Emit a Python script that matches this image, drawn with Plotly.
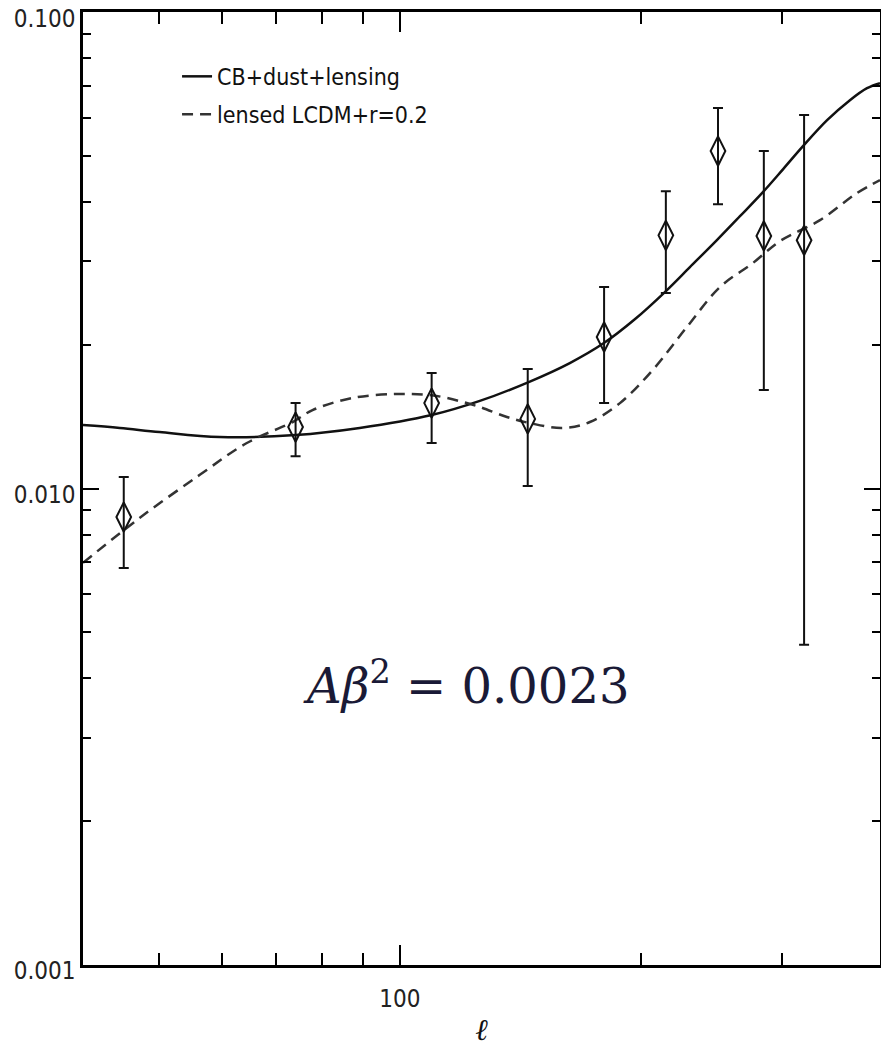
import plotly.graph_objects as go
import numpy as np

# ---- data ----
ell_pts = [45.2, 74.1, 109.6, 144.5, 180.0, 215.0, 249.8, 285.0, 320.0]
dl_pts = [0.00871, 0.01346, 0.01511, 0.01400, 0.0208, 0.0340, 0.0511, 0.0339, 0.0332]
dl_hi = [0.01057, 0.01511, 0.01748, 0.01782, 0.02648, 0.0421, 0.0629, 0.0511, 0.0608]
dl_lo = [0.00681, 0.01169, 0.01246, 0.01012, 0.01511, 0.02572, 0.03954, 0.0161, 0.0047]

ell_cb = [40.2, 44.7, 50.1, 59.6, 74.1, 89.1, 109.6, 125.9, 144.9, 163.1, 179.9, 196.8,
          214.4, 230.4, 249.0, 266.1, 283.5, 301.3, 319.0, 341.9, 365.1, 383.5, 398.1]
dl_cb = [0.01359, 0.01340, 0.01314, 0.01283, 0.01295, 0.01340, 0.01426, 0.01527, 0.01673,
         0.01834, 0.02020, 0.02269, 0.02585, 0.02916, 0.03323, 0.03730, 0.04170, 0.04684,
         0.05233, 0.05933, 0.06535, 0.06926, 0.07096]

ell_lcdm = [40.2, 47.3, 56.2, 64.4, 73.5, 77.8, 87.3, 99.1, 109.0, 114.5, 124.8, 136.1,
            145.4, 159.9, 172.8, 188.4, 207.0, 228.4, 251.2, 276.1, 298.5, 335.0, 372.4, 398.1]
dl_lcdm = [0.00698, 0.00867, 0.01067, 0.01246, 0.01379, 0.01461, 0.01549, 0.01579, 0.01571,
           0.01549, 0.01490, 0.01413, 0.01372, 0.01340, 0.01379, 0.01511, 0.01773, 0.02183,
           0.02648, 0.02973, 0.03306, 0.03660, 0.04170, 0.04440]

x_major = [100]
x_major_text = ["100"]
x_minor = [50, 60, 70, 80, 90, 200, 300]
y_major = [0.001, 0.01, 0.1]
y_major_text = ["0.001", "0.010", "0.100"]
y_minor = [0.002, 0.003, 0.004, 0.005, 0.006, 0.007, 0.008, 0.009,
           0.02, 0.03, 0.04, 0.05, 0.06, 0.07, 0.08, 0.09]

legend_names = ["CB+dust+lensing", "lensed LCDM+r=0.2"]
annotation_text = "<i>Aβ</i><sup>2</sup> = 0.0023"
x_title = "<i>ℓ</i>"

err_plus = list(np.array(dl_hi) - np.array(dl_pts))
err_minus = list(np.array(dl_pts) - np.array(dl_lo))

NARROW = "DejaVu Sans Condensed, Liberation Sans Narrow, Arial Narrow, sans-serif"

fig = go.Figure()
fig.add_trace(go.Scatter(
    x=ell_cb, y=dl_cb, mode="lines", name=legend_names[0], legendgroup="a",
    line=dict(color="#111111", width=2.5, shape="spline", smoothing=1.0)))
fig.add_trace(go.Scatter(
    x=ell_lcdm, y=dl_lcdm, mode="lines", name=legend_names[1], legendgroup="b",
    line=dict(color="#333333", width=2.5, dash="11px,7px", shape="spline", smoothing=1.0)))
fig.add_trace(go.Scatter(
    x=ell_pts, y=dl_pts, mode="markers", showlegend=False,
    marker=dict(symbol="diamond-tall-open", size=21, color="#111111",
                line=dict(width=2, color="#111111")),
    error_y=dict(type="data", array=err_plus, arrayminus=err_minus,
                 color="#111111", thickness=2, width=5)))

fig.update_layout(
    width=881, height=1048,
    margin=dict(l=83, r=1, t=12, b=83, autoexpand=False),
    paper_bgcolor="white", plot_bgcolor="white",
    legend=dict(x=0.118, y=0.955, xanchor="left", yanchor="top",
                bgcolor="rgba(0,0,0,0)", font=dict(family=NARROW, size=23, color="#111111"),
                tracegroupgap=5, itemwidth=30),
    annotations=[dict(text=annotation_text, xref="paper", yref="paper",
                      x=0.4806, y=0.296, xanchor="center", yanchor="middle",
                      showarrow=False,
                      font=dict(family="DejaVu Serif, serif", size=48, color="#1a1a36"))],
)

fig.update_xaxes(
    type="log", range=[np.log10(40.2), np.log10(398.1)],
    showline=True, linecolor="black", linewidth=2.5, mirror="ticks",
    showgrid=False, zeroline=False,
    ticks="inside", ticklen=20, tickwidth=2, tickcolor="black",
    tickmode="array", tickvals=x_major, ticktext=x_major_text,
    ticklabelstandoff=10,
    tickfont=dict(family=NARROW, size=24, color="#222222"),
    minor=dict(tickmode="array", tickvals=x_minor, ticks="inside", ticklen=12,
               tickwidth=2, tickcolor="black", showgrid=False),
    title=dict(text=x_title, font=dict(family="DejaVu Serif, serif", size=30, color="#111111"),
               standoff=8),
)
fig.update_yaxes(
    type="log", range=[-3.0004, -0.9996],
    showline=True, linecolor="black", linewidth=2.5, mirror="ticks",
    showgrid=False, zeroline=False,
    ticks="inside", ticklen=16, tickwidth=2, tickcolor="black",
    tickmode="array", tickvals=y_major, ticktext=y_major_text,
    ticklabeloverflow="allow", ticklabelshift=6,
    tickfont=dict(family=NARROW, size=24, color="#222222"),
    minor=dict(tickmode="array", tickvals=y_minor, ticks="inside", ticklen=8,
               tickwidth=2, tickcolor="black", showgrid=False),
)

fig.write_html("out.html", config={"displayModeBar": False},
               post_script="document.body.style.margin='0';document.body.style.overflow='hidden';")
